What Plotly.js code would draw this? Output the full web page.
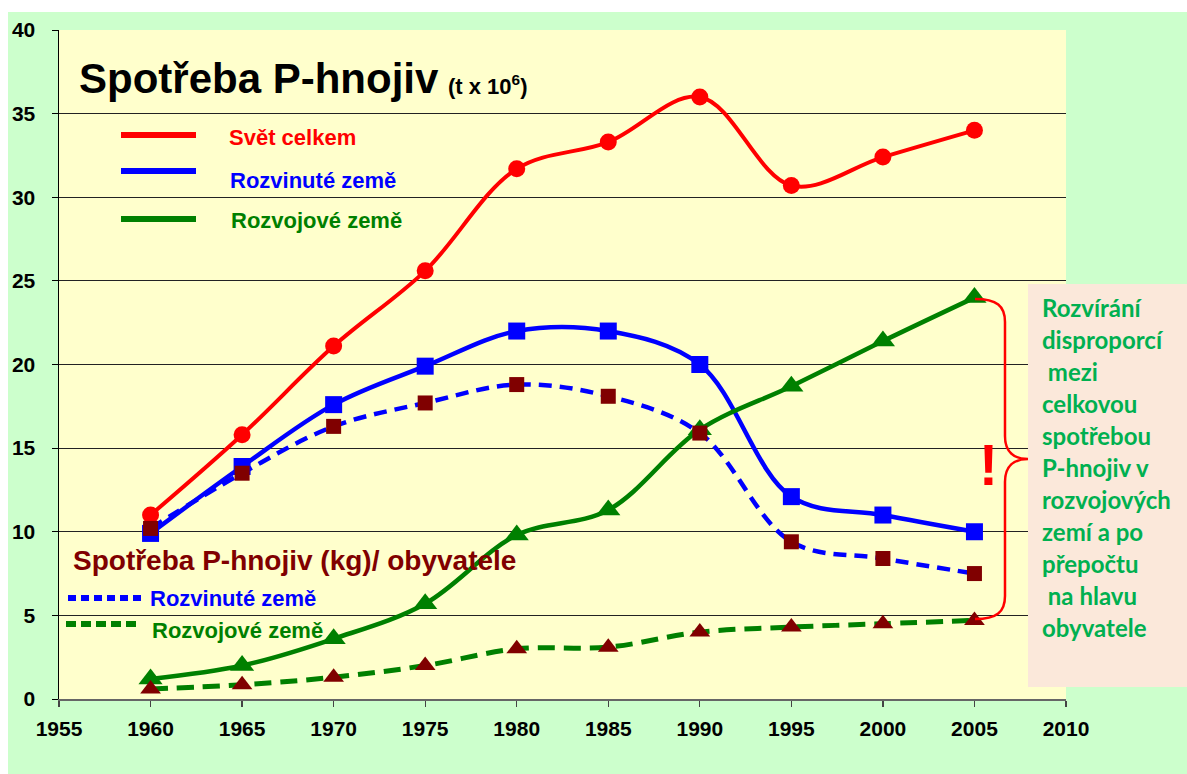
<!DOCTYPE html>
<html>
<head>
<meta charset="utf-8">
<script src="https://cdn.plot.ly/plotly-3.0.1.min.js"></script>
<style>
html,body{margin:0;padding:0;background:#fff;}
#chart{position:absolute;left:8px;top:12px;width:1179px;height:762px;}
</style>
</head>
<body>
<div id="chart"></div>
<script>
// ---- data ----
const years = [1960, 1965, 1970, 1975, 1980, 1985, 1990, 1995, 2000, 2005];
const svetCelkem = [11.0, 15.8, 21.1, 25.6, 31.7, 33.3, 36.0, 30.7, 32.4, 34.0];
const rozvinuteZeme = [9.9, 13.9, 17.6, 19.9, 22.0, 22.0, 20.0, 12.1, 11.0, 10.0];
const rozvojoveZeme = [1.2, 2.0, 3.6, 5.7, 9.8, 11.3, 16.1, 18.7, 21.4, 24.0];
const rozvinuteKgObyv = [10.2, 13.5, 16.3, 17.7, 18.8, 18.1, 15.9, 9.4, 8.4, 7.5];
const rozvojoveKgObyv = [0.6, 0.85, 1.3, 2.0, 3.0, 3.1, 4.0, 4.3, 4.5, 4.7];
const xTicks = [1955, 1960, 1965, 1970, 1975, 1980, 1985, 1990, 1995, 2000, 2005, 2010];
const yTicks = [0, 5, 10, 15, 20, 25, 30, 35, 40];
const boxLines = ["Rozvírání", "disproporcí", "\u00a0mezi", "celkovou", "spotřebou", "P-hnojiv v", "rozvojových", "zemí a po", "přepočtu", "\u00a0na hlavu", "obyvatele"];

// ---- helpers: page pixel -> paper coords ----
const PL = 59, PR = 1066, PT = 30, PB = 699;
const px = x => (x - PL) / (PR - PL);
const py = y => (PB - y) / (PB - PT);

const AR = "Arial, 'Liberation Sans', sans-serif";
const RED = "#FF0000", BLUE = "#0000FF", GREEN = "#008000", DRED = "#800000";

const traces = [
  {x: years, y: svetCelkem, mode: "lines+markers", line: {color: RED, width: 4, shape: "spline", smoothing: 1},
   marker: {symbol: "circle", size: 17, color: RED}},
  {x: years, y: rozvinuteZeme, mode: "lines+markers", line: {color: BLUE, width: 4.5, shape: "spline", smoothing: 1},
   marker: {symbol: "square", size: 17, color: BLUE}},
  {x: years, y: rozvojoveZeme, mode: "lines+markers", line: {color: GREEN, width: 4.5, shape: "spline", smoothing: 1},
   marker: {symbol: "triangle-up", size: 21, color: GREEN}},
  {x: years, y: rozvinuteKgObyv, mode: "lines+markers", line: {color: BLUE, width: 4.5, dash: "13px,8px", shape: "spline", smoothing: 1},
   marker: {symbol: "square", size: 15, color: DRED}},
  {x: years, y: rozvojoveKgObyv, mode: "lines+markers", line: {color: GREEN, width: 5, dash: "17px,9px", shape: "spline", smoothing: 1},
   marker: {symbol: "triangle-up", size: 18, color: DRED}}
];

function ann(text, x, y, size, color, extra) {
  return Object.assign({xref: "paper", yref: "paper", x: px(x), y: py(y), text: text, showarrow: false,
    xanchor: "left", yanchor: "middle", font: {family: AR, size: size, color: color, weight: "bold"}}, extra || {});
}

const annotations = [
  ann("Spotřeba P-hnojiv", 77, 79, 42, "#000"),
  ann("(t x 10<sup>6</sup>)", 446, 85, 22, "#000"),
  ann("Svět celkem", 227, 137, 22, RED),
  ann("Rozvinuté země", 228, 181, 22, BLUE),
  ann("Rozvojové země", 229, 221, 22, GREEN),
  ann("Spotřeba P-hnojiv (kg)/ obyvatele", 71, 560, 28, DRED),
  ann("Rozvinuté země", 148, 598, 22, BLUE),
  ann("Rozvojové země", 150, 630, 22, GREEN),
  ann("!", 988, 465, 57, RED, {xanchor: "center"})
];
boxLines.forEach((t, i) => {
  annotations.push(ann(t, 1040, 307 + 32 * i, 24, "#00B050", {font: {family: "Lato, 'Open Sans', sans-serif", size: 24, color: "#00B050", weight: "bold"}}));
});

function P(x, y) { return px(x).toFixed(5) + "," + py(y).toFixed(5); }
const bracePath = "M" + P(975, 299) + " C" + P(997, 299) + " " + P(1005, 306) + " " + P(1005, 322) +
  " L" + P(1005, 436) + " C" + P(1005, 452) + " " + P(1014, 459) + " " + P(1028, 459) +
  " C" + P(1014, 459) + " " + P(1005, 466) + " " + P(1005, 482) +
  " L" + P(1005, 596) + " C" + P(1005, 612) + " " + P(997, 619) + " " + P(975, 619);

const shapes = [
  {type: "rect", xref: "paper", yref: "paper", x0: px(1028), x1: px(1190), y0: py(284), y1: py(687),
   fillcolor: "#FBE8DA", line: {width: 0}, layer: "above"},
  {type: "path", xref: "paper", yref: "paper", path: bracePath, line: {color: RED, width: 2.5}},
  {type: "line", xref: "paper", yref: "paper", x0: px(121), x1: px(196), y0: py(135), y1: py(135), line: {color: RED, width: 6}},
  {type: "line", xref: "paper", yref: "paper", x0: px(121), x1: px(196), y0: py(171), y1: py(171), line: {color: BLUE, width: 6}},
  {type: "line", xref: "paper", yref: "paper", x0: px(121), x1: px(196), y0: py(219), y1: py(219), line: {color: GREEN, width: 6}},
  {type: "line", xref: "paper", yref: "paper", x0: px(68), x1: px(144), y0: py(598), y1: py(598), line: {color: BLUE, width: 6, dash: "8px,5px"}},
  {type: "line", xref: "paper", yref: "paper", x0: px(66), x1: px(141), y0: py(624), y1: py(624), line: {color: GREEN, width: 6, dash: "10px,5px"}}
];

const tickFont = {family: AR, size: 21, color: "#000", weight: "bold"};
const layout = {
  width: 1179, height: 762,
  margin: {l: 51, r: 121, t: 18, b: 75, pad: 0},
  font: {family: AR, size: 21, color: "#000"},
  paper_bgcolor: "#CCFFCC", plot_bgcolor: "#FFFFCC",
  showlegend: false, hovermode: false,
  xaxis: {range: [1955, 2010], tickmode: "array", tickvals: xTicks, ticktext: xTicks.map(String), showgrid: false, zeroline: false,
    showline: true, linecolor: "#666", linewidth: 1.5, ticks: "outside", ticklen: 6, tickcolor: "#444", tickwidth: 1.2,
    ticklabelstandoff: 4, tickfont: tickFont, automargin: false},
  yaxis: {range: [0, 40], tickmode: "array", tickvals: yTicks, ticktext: yTicks.map(String), showgrid: true, gridcolor: "#222", gridwidth: 1,
    zeroline: false, showline: true, linecolor: "#000", linewidth: 1.5, ticks: "outside", ticklen: 6, tickcolor: "#000",
    ticklabelstandoff: 12, tickfont: tickFont, automargin: false},
  annotations: annotations,
  shapes: shapes
};

Plotly.newPlot("chart", traces, layout, {displayModeBar: false, staticPlot: true});
</script>
</body>
</html>
